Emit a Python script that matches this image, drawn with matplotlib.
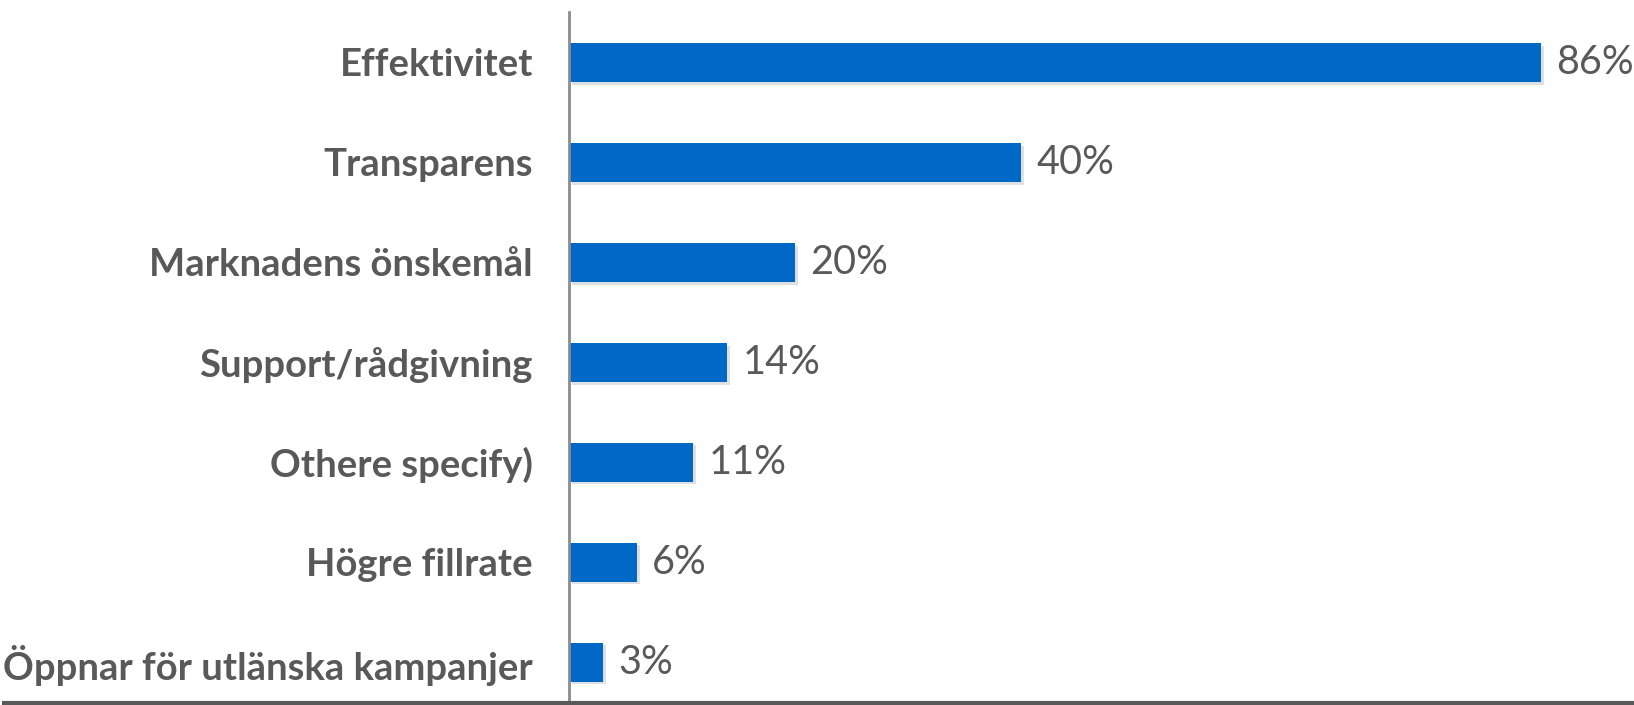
import matplotlib.pyplot as plt
import matplotlib.patheffects as pe
from matplotlib.lines import Line2D

categories = ['Effektivitet', 'Transparens', 'Marknadens önskemål', 'Support/rådgivning',
              'Othere specify)', 'Högre fillrate', 'Öppnar för utlänska kampanjer']
values = [86, 40, 20, 14, 11, 6, 3]

bar_color = '#0069c8'
text_color = '#595959'

plt.rcParams['font.family'] = ['Lato', 'DejaVu Sans']

fig = plt.figure(figsize=(16.34, 7.05), dpi=100)
ax = fig.add_axes([569 / 1634, 4 / 705, 1 - 569 / 1634, 689 / 705])

pos = list(range(len(categories)))
bars = ax.barh(pos, values, height=0.39, color=bar_color, zorder=2)
for b in bars:
    b.set_path_effects([pe.SimplePatchShadow(offset=(2, -2), shadow_rgbFace='#000000', alpha=0.12), pe.Normal()])

for p, v in zip(pos, values):
    ax.annotate(f'{v}%', (v, p), xytext=(15, 0), textcoords='offset pixels',
                va='center', ha='left', fontsize=28.5, color=text_color)

ax.set_xlim(0, 94.2)
ax.set_ylim(6.39, -0.505)
ax.set_yticks(pos)
ax.set_yticklabels(categories, fontsize=27.5, fontweight='bold', color=text_color)
ax.tick_params(axis='y', length=0, pad=26)
ax.set_xticks([])
for s in ['top', 'right', 'bottom']:
    ax.spines[s].set_visible(False)
ax.spines['left'].set_color('#8c8c8c')
ax.spines['left'].set_linewidth(2)

fig.add_artist(Line2D([4 / 1634, 1], [2.5 / 705, 2.5 / 705], color='#595959', linewidth=3))

fig.savefig('out.png', dpi=100)
